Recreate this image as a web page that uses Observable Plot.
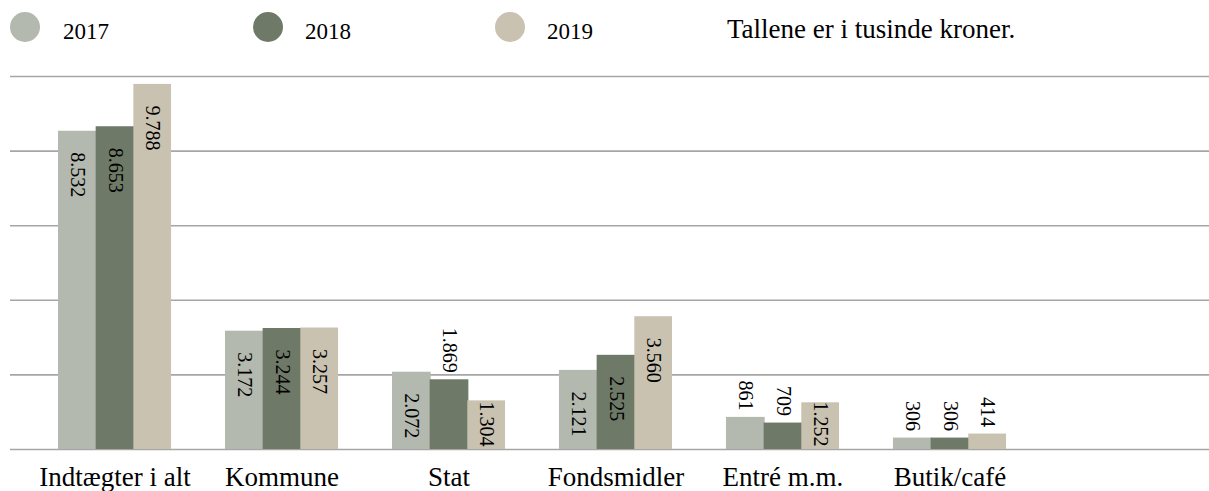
<!DOCTYPE html>
<html>
<head>
<meta charset="utf-8">
<script src="https://cdn.jsdelivr.net/npm/d3@7"></script>
<script src="https://cdn.jsdelivr.net/npm/@observablehq/plot@0.6"></script>
<style>
  html, body { margin: 0; padding: 0; background: #fff; }
  body { width: 1209px; height: 491px; overflow: hidden; font-family: "Liberation Serif", serif; color: #000; }
  #legend { position: relative; height: 55px; }
  .sw { position: absolute; width: 30px; height: 30px; border-radius: 50%; top: 12px; }
  .lt { position: absolute; top: 17px; font-size: 23px; line-height: 30px; }
  .note { position: absolute; top: 11px; left: 727px; font-size: 27px; line-height: 36px; }
</style>
</head>
<body>
<div id="legend"></div>
<div id="chart"></div>
<script>
const categories = ["Indtægter i alt", "Kommune", "Stat", "Fondsmidler", "Entré m.m.", "Butik/café"];
const years = ["2017", "2018", "2019"];
const values2017 = [8532, 3172, 2072, 2121, 861, 306];
const values2018 = [8653, 3244, 1869, 2525, 709, 306];
const values2019 = [9788, 3257, 1304, 3560, 1252, 414];
const yTicks = [0, 2000, 4000, 6000, 8000, 10000];
const colors = ["#b3b9ae", "#6e7a67", "#c9c2b0"];
const noteText = "Tallene er i tusinde kroner.";

// label placement (layout, not data)
const outsideLabels = new Set(["Stat|2018", "Entré m.m.|2017", "Entré m.m.|2018", "Butik/café|2017", "Butik/café|2018", "Butik/café|2019"]);
const bottomLabels = new Set(["Stat|2019", "Entré m.m.|2019"]);

const seriesValues = [values2017, values2018, values2019];
const data = [];
years.forEach((yr, j) => categories.forEach((c, i) => data.push({category: c, year: yr, value: seriesValues[j][i]})));

const fmt = d3.formatLocale({decimal: ",", thousands: ".", grouping: [3], currency: ["", " kr"]}).format(",d");

// legend
const legend = document.getElementById("legend");
const swLeft = [10, 253, 495];
const txLeft = [63, 305, 547];
years.forEach((yr, j) => {
  const s = document.createElement("div");
  s.className = "sw"; s.style.left = swLeft[j] + "px"; s.style.background = colors[j];
  legend.appendChild(s);
  const t = document.createElement("div");
  t.className = "lt"; t.style.left = txLeft[j] + "px"; t.textContent = yr;
  legend.appendChild(t);
});
const note = document.createElement("div");
note.className = "note"; note.textContent = noteText;
legend.appendChild(note);

const barW = 113 / 3;
const overlap = 1;
const insetsL = [0, barW, 2 * barW];
const insetsR = [2 * barW - overlap, barW - overlap, 0];
const marks = [
  Plot.ruleY(yTicks, {stroke: "#a6a6a6", strokeWidth: 1.6})
];
years.forEach((yr, j) => {
  const d = data.filter(r => r.year === yr);
  marks.push(Plot.barY(d, {
    x: "category", y: "value", fill: colors[j],
    insetLeft: insetsL[j], insetRight: insetsR[j]
  }));
});
years.forEach((yr, j) => {
  const d = data.filter(r => r.year === yr);
  const dx = (j - 1) * barW;
  const key = r => r.category + "|" + r.year;
  marks.push(Plot.text(d.filter(r => !outsideLabels.has(key(r)) && !bottomLabels.has(key(r))), {
    x: "category", y: "value", text: r => fmt(r.value), rotate: 90,
    textAnchor: "start", dx, dy: 21, fontSize: 20, fill: "#000"
  }));
  marks.push(Plot.text(d.filter(r => outsideLabels.has(key(r))), {
    x: "category", y: "value", text: r => fmt(r.value), rotate: 90,
    textAnchor: "end", dx, dy: -7, fontSize: 20, fill: "#000"
  }));
  marks.push(Plot.text(d.filter(r => bottomLabels.has(key(r))), {
    x: "category", y: 0, text: r => fmt(r.value), rotate: 90,
    textAnchor: "end", dx, dy: -3, fontSize: 20, fill: "#000"
  }));
});
marks.push(Plot.axisX({tickSize: 0, tickPadding: 17, fontSize: 27, label: null}));

const chart = Plot.plot({
  width: 1209,
  height: 436,
  marginLeft: 10,
  marginRight: 0,
  marginTop: 21,
  marginBottom: 42,
  style: {fontFamily: "Liberation Serif", color: "#000", background: "#fff"},
  x: {domain: categories, range: [31, 1033], paddingInner: 0.323, paddingOuter: 0.1617, round: false, axis: null},
  y: {domain: [0, 10000], axis: null},
  marks
});
document.getElementById("chart").appendChild(chart);
</script>
</body>
</html>
